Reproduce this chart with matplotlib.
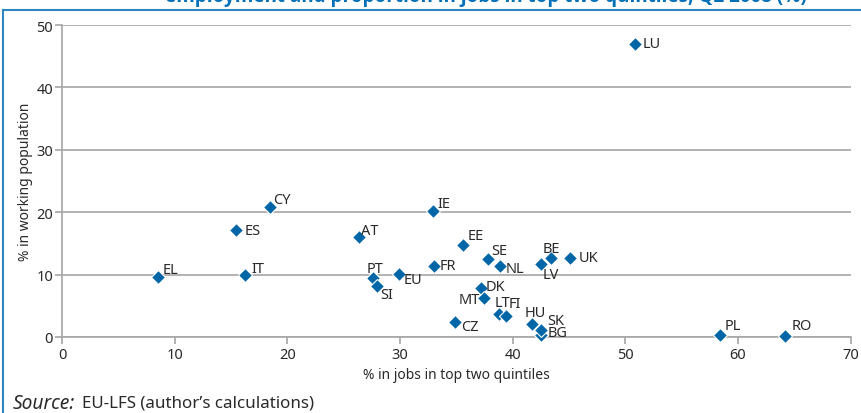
import matplotlib.pyplot as plt
from matplotlib.lines import Line2D

plt.rcParams['font.family'] = ['Noto Sans', 'DejaVu Sans']

# Country codes with (% in jobs in top two quintiles, % in working population)
countries = ['LU', 'CY', 'ES', 'AT', 'IE', 'EE', 'SE', 'BE', 'UK', 'NL', 'LV', 'FR',
             'EL', 'IT', 'PT', 'EU', 'SI', 'DK', 'MT', 'LT', 'FI', 'CZ', 'HU', 'SK',
             'BG', 'PL', 'RO']
top_quintiles = [50.9, 18.5, 15.4, 26.4, 32.9, 35.6, 37.8, 43.4, 45.1, 38.9, 42.5, 33.0,
                 8.5, 16.2, 27.6, 29.9, 28.0, 37.2, 37.5, 38.8, 39.4, 34.9, 41.7, 42.5,
                 42.5, 58.4, 64.2]
working_pop = [47.0, 20.8, 17.1, 16.0, 20.2, 14.8, 12.5, 12.7, 12.7, 11.4, 11.7, 11.4,
               9.6, 9.9, 9.5, 10.1, 8.2, 7.9, 6.3, 3.7, 3.4, 2.4, 2.1, 1.1,
               0.3, 0.3, 0.2]

# label offsets in pixels (dx, dy) and horizontal alignment
label_pos = {
    'LU': (7, 0, 'left'), 'CY': (3, 8, 'left'), 'ES': (9, 0, 'left'),
    'AT': (2, 7, 'left'), 'IE': (5, 7, 'left'), 'EE': (5, 9, 'left'),
    'SE': (3, 9, 'left'), 'BE': (-8, 9, 'left'), 'UK': (9, 0, 'left'),
    'NL': (5, -3, 'left'), 'LV': (2, -10, 'left'), 'FR': (6, 0, 'left'),
    'EL': (5, 8, 'left'), 'IT': (7, 7, 'left'), 'PT': (-6, 9, 'left'),
    'EU': (5, -6, 'left'), 'SI': (3, -9, 'left'), 'DK': (5, 1, 'left'),
    'MT': (-5, -2, 'right'), 'LT': (-5, 11, 'left'), 'FI': (3, 12, 'left'),
    'CZ': (6, -4, 'left'), 'HU': (-7, 11, 'left'), 'SK': (6, 10, 'left'),
    'BG': (7, 3, 'left'), 'PL': (5, 10, 'left'), 'RO': (6, 10, 'left'),
}

blue = '#0066a8'
grey = '#a6a6a6'
ink = '#2a2a2a'

fig = plt.figure(figsize=(8.61, 4.14), dpi=100)
ax = fig.add_axes([0.072, 0.1836, 0.916, 0.7534])

ax.set_xlim(0, 70)
ax.set_ylim(0, 50)
ax.set_xticks(range(0, 71, 10))
ax.set_yticks(range(0, 51, 10))
ax.yaxis.grid(True, color=grey, linewidth=1.2)
ax.set_axisbelow(True)
for side in ['top', 'right']:
    ax.spines[side].set_visible(False)
for side in ['left', 'bottom']:
    ax.spines[side].set_color(grey)
    ax.spines[side].set_linewidth(1.2)
ax.tick_params(colors=grey, labelcolor=ink, labelsize=10.5, length=5, width=1.2)
ax.tick_params(axis='y', pad=1.5)
ax.tick_params(axis='x', pad=2)

# BG sits behind SK, draw it first
order = sorted(range(len(countries)), key=lambda i: countries[i] != 'BG')
for i in order:
    ax.plot(top_quintiles[i], working_pop[i], 'D', color=blue, markersize=7,
            markeredgecolor='white', markeredgewidth=0.8, clip_on=False, zorder=3)

for c, x, y in zip(countries, top_quintiles, working_pop):
    dx, dy, ha = label_pos[c]
    ax.annotate(c, (x, y), xytext=(dx, dy), textcoords='offset pixels',
                ha=ha, va='center', fontsize=10.5, color=ink, zorder=4)

ax.set_xlabel('% in jobs in top two quintiles', fontsize=10, color=ink, labelpad=4)
ax.set_ylabel('% in working population', fontsize=10, color=ink)
ax.yaxis.set_label_coords(-0.037, 0.5)

# frame lines and title strip
fig.add_artist(Line2D([3 / 861, 1], [1 - 11 / 414] * 2, color='#2e86c1', linewidth=1.5))
fig.add_artist(Line2D([2.5 / 861] * 2, [0, 1 - 11 / 414], color='#2e86c1', linewidth=1.5))
fig.text(0.564, 1 - 2 / 414, 'employment and proportion in jobs in top two quintiles, Q2 2008 (%)',
         ha='center', va='baseline', fontsize=13.6, fontweight='bold', color='#0070b8',
         family=['Open Sans', 'DejaVu Sans'])

fig.text(13 / 861, 10 / 414, 'Source:', style='italic', fontsize=13.8, color=ink,
         va='center')
fig.text(82 / 861, 10 / 414, 'EU-LFS (author\u2019s calculations)', fontsize=12.2,
         color=ink, va='center')

fig.savefig('out.png', dpi=100)
